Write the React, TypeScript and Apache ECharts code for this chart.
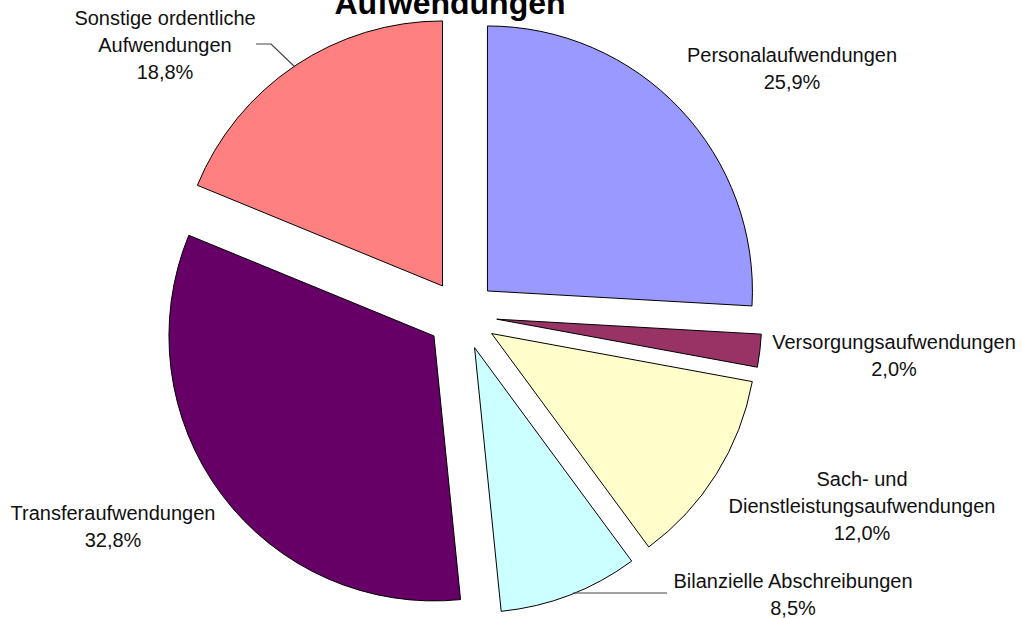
import React, { useEffect, useRef } from "react";
import * as echarts from "echarts";

const titleText = "Aufwendungen";
const categories = [
  "Personalaufwendungen",
  "Versorgungsaufwendungen",
  "Sach- und\nDienstleistungsaufwendungen",
  "Bilanzielle Abschreibungen",
  "Transferaufwendungen",
  "Sonstige ordentliche\nAufwendungen",
];
const values = [25.9, 2.0, 12.0, 8.5, 32.8, 18.8];
const colors = ["#9999FF", "#993366", "#FFFFCC", "#CCFFFF", "#660066", "#FF8080"];
// label anchor (centre of text block) per slice
const labelPos: [number, number][] = [
  [792, 68.5],
  [894, 355.5],
  [862, 506],
  [793, 594],
  [113, 526],
  [165, 45],
];
// leader lines (label side -> slice edge)
const leaders: [number, number][][] = [
  [
    [256, 44],
    [271, 44],
    [295, 67],
  ],
  [
    [667, 593],
    [573, 593],
  ],
];

const FONT = "'Liberation Sans', Arial, sans-serif";

export default function App() {
  const ref = useRef<HTMLDivElement>(null);
  useEffect(() => {
    if (!ref.current) return;
    const chart = echarts.init(ref.current, null, { renderer: "svg" });
    const labelTexts = categories.map((name, i) => ({
      type: "text",
      x: labelPos[i][0],
      y: labelPos[i][1],
      z: 10,
      style: {
        text: name + "\n" + values[i].toFixed(1).replace(".", ",") + "%",
        fontFamily: FONT,
        fontSize: 20,
        lineHeight: 27,
        fill: "#111",
        align: "center",
        verticalAlign: "middle",
      },
    }));
    const leaderLines = leaders.map((pts) => ({
      type: "polyline",
      z: 10,
      shape: { points: pts },
      style: { stroke: "#444", lineWidth: 1.2, fill: "none" },
    }));
    chart.setOption({
      animation: false,
      backgroundColor: "#ffffff",
      graphic: [
        {
          type: "text",
          x: 450,
          y: 3,
          style: {
            text: titleText,
            font: "bold 32px 'Liberation Sans', Arial, sans-serif",
            fill: "#000",
            align: "center",
            verticalAlign: "middle",
          },
        },
        ...labelTexts,
        ...leaderLines,
      ],
      series: [
        {
          type: "pie",
          center: [462, 315],
          radius: [0, 265],
          startAngle: 90,
          clockwise: true,
          selectedMode: "multiple",
          selectedOffset: 35,
          avoidLabelOverlap: false,
          itemStyle: { borderColor: "#000", borderWidth: 1 },
          emphasis: { disabled: true },
          label: { show: false },
          labelLine: { show: false },
          data: categories.map((name, i) => ({
            name,
            value: values[i],
            selected: true,
            itemStyle: { color: colors[i] },
          })),
        },
      ],
    });
    return () => chart.dispose();
  }, []);
  return (
    <div
      ref={ref}
      style={{ position: "fixed", left: 0, top: 0, width: 1022, height: 618 }}
    />
  );
}
